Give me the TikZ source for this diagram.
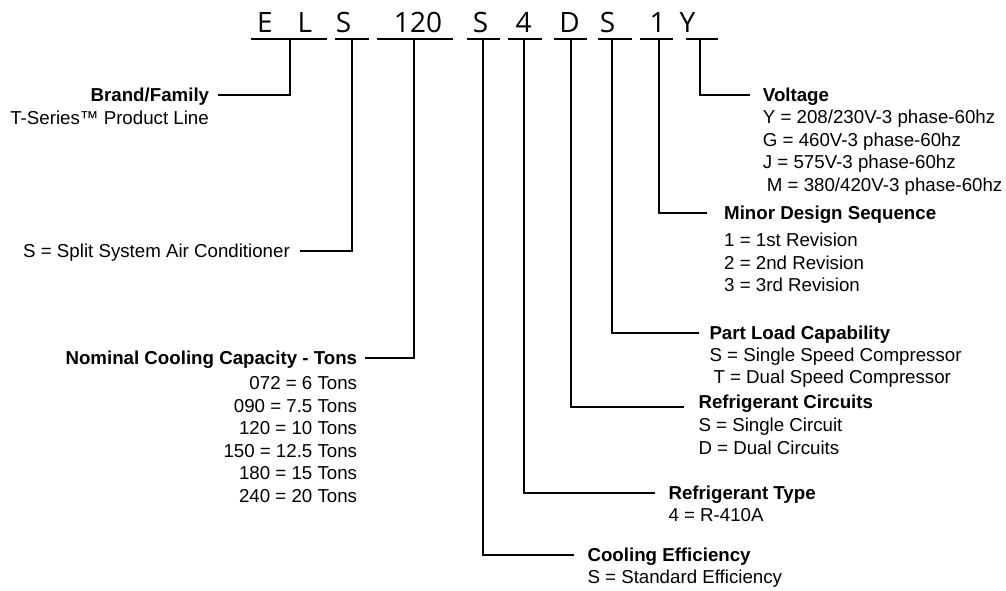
\documentclass[tikz,border=0pt]{standalone}
\usepackage{fontspec}
\setmainfont{Liberation Sans}
\newfontfamily\codefont{Open Sans}
\begin{document}
\begin{tikzpicture}[x=1pt,y=-1pt,
  codetxt/.style={font=\codefont\fontsize{28}{30}\selectfont, inner sep=0pt, anchor=base},
  useg/.style={inner sep=0pt, minimum height=0pt, minimum width=#1},
  uline/.style={line width=2pt},
  connline/.style={line width=2pt},
  headtxt/.style={font=\fontsize{18.7}{22.6}\selectfont\bfseries, inner sep=0pt, text height=13.4pt, text depth=0pt},
  plaintxt/.style={font=\fontsize{18.7}{22.6}\selectfont, inner sep=0pt, text height=13.4pt, text depth=0pt},
  bodytxt/.style={font=\fontsize{18.7}{22.6}\selectfont, inner sep=0pt}
]
\useasboundingbox (0,0) rectangle (1006,590);

% model code characters
\node[codetxt] (cE)   at (265,32.7)   {E};
\node[codetxt] (cL)   at (305,32.7)   {L};
\node[codetxt] (cS1)  at (343.5,32.7) {S};
\node[codetxt] (c120) at (418,32.7)   {120};
\node[codetxt] (cS2)  at (480.5,32.7) {S};
\node[codetxt] (c4)   at (523.5,32.7) {4};
\node[codetxt] (cD)   at (569.5,32.7) {D};
\node[codetxt] (cS3)  at (607.5,32.7) {S};
\node[codetxt] (c1)   at (657.5,32.7) {1};
\node[codetxt] (cY)   at (687.5,32.7) {Y};

% underline segments
\node[useg=76pt]   (uEL)  at (288.7,39.3)  {};
\node[useg=33.3pt] (uS1)  at (351.65,39.3) {};
\node[useg=76pt]   (u120) at (415,39.3)    {};
\node[useg=32.6pt] (uS2)  at (483,39.3)    {};
\node[useg=33.7pt] (u4)   at (524.85,39.3) {};
\node[useg=32.7pt] (uD)   at (570.35,39.3) {};
\node[useg=33.7pt] (uS3)  at (614.85,39.3) {};
\node[useg=33pt]   (u1)   at (656.5,39.3)  {};
\node[useg=32pt]   (uY)   at (702,39.3)    {};
\foreach \u in {uEL,uS1,u120,uS2,u4,uD,uS3,u1,uY}
  \draw[uline] (\u.west) -- (\u.east);

% left labels
\node[headtxt, anchor=east] (hBrand) at (209.3,95) {Brand/Family};
\node[bodytxt, anchor=north east, align=right] (bBrand) at (209,110.3) {T-Series™ Product Line};
\node[plaintxt, anchor=east] (hSplit) at (290,251) {S = Split System Air Conditioner};
\node[headtxt, anchor=east] (hNom) at (357.3,357.5) {Nominal Cooling Capacity - Tons};
\node[bodytxt, anchor=north east, align=right] (bNom) at (357.3,376.3)
  {072 = 6 Tons\\090 = 7.5 Tons\\120 = 10 Tons\\150 = 12.5 Tons\\180 = 15 Tons\\240 = 20 Tons};

% right labels
\node[headtxt, anchor=west] (hVolt) at (762.7,95) {Voltage};
\node[bodytxt, anchor=north west, align=left] (bVolt) at (762.7,109.7)
  {Y = 208/230V-3 phase-60hz\\G = 460V-3 phase-60hz\\J = 575V-3 phase-60hz\\\hspace*{4pt}M = 380/420V-3 phase-60hz};
\node[headtxt, anchor=west] (hMinor) at (724,212.7) {Minor Design Sequence};
\node[bodytxt, anchor=north west, align=left] (bMinor) at (724,233)
  {1 = 1st Revision\\2 = 2nd Revision\\3 = 3rd Revision};
\node[headtxt, anchor=west] (hPart) at (709.3,333) {Part Load Capability};
\node[bodytxt, anchor=north west, align=left] (bPart) at (709.3,347.3)
  {S = Single Speed Compressor\\\hspace*{4pt}T = Dual Speed Compressor};
\node[headtxt, anchor=west] (hCirc) at (698.3,402) {Refrigerant Circuits};
\node[bodytxt, anchor=north west, align=left] (bCirc) at (698.3,418)
  {S = Single Circuit\\D = Dual Circuits};
\node[headtxt, anchor=west] (hType) at (668.3,492.7) {Refrigerant Type};
\node[bodytxt, anchor=north west, align=left] (bType) at (668.3,508) {4 = R-410A};
\node[headtxt, anchor=west] (hEff) at (587.3,555) {Cooling Efficiency};
\node[bodytxt, anchor=north west, align=left] (bEff) at (587.3,569.7) {S = Standard Efficiency};

% connectors
\draw[connline] ([xshift=1.3pt]uEL.center) |- ([xshift=8.7pt]hBrand.east);
\draw[connline] (uS1.center) |- ([xshift=10pt]hSplit.east);
\draw[connline] ([xshift=-1pt]u120.center) |- ([xshift=7.7pt]hNom.east);
\draw[connline] (uS2.center) |- ([xshift=-13.3pt]hEff.west);
\draw[connline] ([xshift=-0.8pt]u4.center) |- ([xshift=-13.3pt]hType.west);
\draw[connline] ([xshift=0.7pt]uD.center) |- ([xshift=-14pt,yshift=-5pt]hCirc.west);
\draw[connline] ([xshift=-3.1pt]uS3.center) |- ([xshift=-10pt]hPart.west);
\draw[connline] ([xshift=2.5pt]u1.center) |- ([xshift=-17.3pt]hMinor.west);
\draw[connline] ([xshift=-2pt]uY.center) |- ([xshift=-12.7pt]hVolt.west);
\end{tikzpicture}
\end{document}
